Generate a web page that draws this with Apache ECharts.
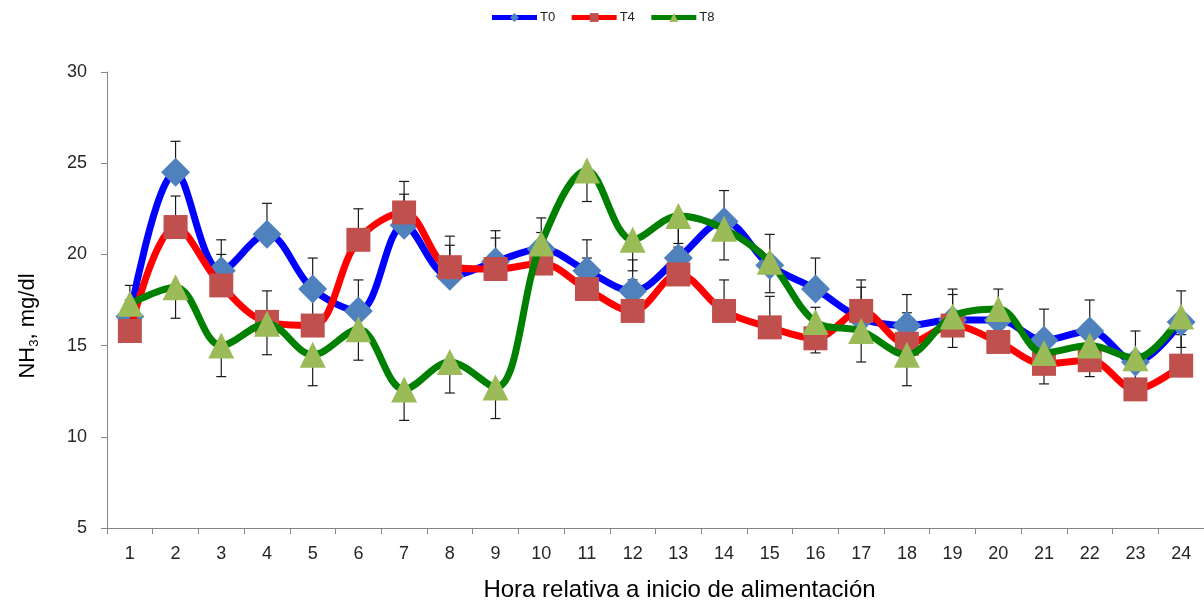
<!DOCTYPE html>
<html><head><meta charset="utf-8">
<script src="https://cdn.jsdelivr.net/npm/echarts@6/dist/echarts.min.js"></script>
<style>html,body{margin:0;padding:0;background:#fff}#c{width:1204px;height:607px}</style>
</head><body><div id="c"></div>
<script>
const hours = ['1','2','3','4','5','6','7','8','9','10','11','12','13','14','15','16','17','18','19','20','21','22','23','24'];
const t0 = [16.6, 24.5, 19.1, 21.1, 18.1, 16.9, 21.6, 18.8, 19.6, 20.3, 19.1, 18.0, 19.8, 21.8, 19.4, 18.1, 16.5, 16.1, 16.4, 16.4, 15.3, 15.8, 14.1, 16.3];
const t4 = [15.8, 21.5, 18.3, 16.3, 16.1, 20.8, 22.3, 19.3, 19.2, 19.5, 18.1, 16.9, 18.9, 16.9, 16.0, 15.4, 16.9, 15.1, 16.1, 15.2, 14.0, 14.2, 12.6, 13.9];
const t8 = [17.3, 18.2, 15.0, 16.2, 14.5, 15.9, 12.6, 14.1, 12.7, 20.6, 24.6, 20.8, 22.1, 21.4, 19.6, 16.3, 15.8, 14.5, 16.6, 17.0, 14.6, 15.0, 14.3, 16.6];
// error bars: T0 and T4 shown upward, T8 shown downward
const t0Err = [1.7, 1.7, 1.7, 1.7, 1.7, 1.7, 1.7, 1.7, 1.7, 1.7, 1.7, 1.7, 1.7, 1.7, 1.7, 1.7, 1.7, 1.7, 1.7, 1.7, 1.7, 1.7, 1.7, 1.7];
const t4Err = [1.7, 1.7, 1.7, 1.7, 1.7, 1.7, 1.7, 1.7, 1.7, 1.7, 1.7, 1.7, 1.7, 1.7, 1.7, 1.7, 1.7, 1.7, 1.7, 1.7, 1.7, 1.7, 1.7, 1.7];
const t8Err = [1.7, 1.7, 1.7, 1.7, 1.7, 1.7, 1.7, 1.7, 1.7, 1.7, 1.7, 1.7, 1.7, 1.7, 1.7, 1.7, 1.7, 1.7, 1.7, 1.7, 1.7, 1.7, 1.7, 1.7];
const yTicks = {min: 5, max: 30, interval: 5};

const chart = echarts.init(document.getElementById('c'), null, {renderer: 'canvas'});

function errData(vals, errs, dir) {
  return vals.map((v, i) => [i, v, v + dir * errs[i]]);
}
function errSeries(name, vals, errs, dir, z) {
  return {
    type: 'custom', name: name + ' err', z: z,
    silent: true,
    data: errData(vals, errs, dir),
    encode: {x: 0, y: [1, 2]},
    renderItem: function (params, api) {
      const p0 = api.coord([api.value(0), api.value(1)]);
      const p1 = api.coord([api.value(0), api.value(2)]);
      const hw = 5;
      const st = {stroke: '#1a1a1a', lineWidth: 1.2};
      return {type: 'group', children: [
        {type: 'line', shape: {x1: p0[0], y1: p0[1], x2: p1[0], y2: p1[1]}, style: st},
        {type: 'line', shape: {x1: p1[0] - hw, y1: p1[1], x2: p1[0] + hw, y2: p1[1]}, style: st}
      ]};
    }
  };
}
function lineSeries(name, vals, lineColor, markColor, symbol, size, z) {
  return {
    type: 'line', name: name, data: vals, z: z,
    smooth: 0.35,
    symbol: symbol, symbolSize: size,
    showAllSymbol: true,
    lineStyle: {color: lineColor, width: 7},
    itemStyle: {color: markColor, borderWidth: 0},
    color: lineColor,
    emphasis: {disabled: true}
  };
}

chart.setOption({
  animation: false,
  backgroundColor: '#fff',
  legend: {
    top: 6, left: 'center',
    itemWidth: 45, itemHeight: 11, itemGap: 14,
    lineStyle: {width: 5},
    textStyle: {fontFamily: 'Liberation Sans', fontSize: 13, color: '#222', padding: [0, 0, 0, -2]},
    data: ['T0', 'T4', 'T8']
  },
  grid: {left: 107, right: 0, top: 72, bottom: 76, containLabel: false},
  xAxis: {
    type: 'category', data: hours, boundaryGap: true,
    axisLine: {lineStyle: {color: '#868686', width: 1}},
    axisTick: {show: true, alignWithLabel: false, length: 6, lineStyle: {color: '#868686'}},
    axisLabel: {fontFamily: 'Liberation Sans', fontSize: 18, color: '#262626', margin: 17},
    name: 'Hora relativa a inicio de alimentación',
    nameLocation: 'middle', nameGap: 50,
    nameTextStyle: {fontFamily: 'Liberation Sans', fontSize: 24, color: '#000', padding: [0, 0, 0, 48]}
  },
  yAxis: {
    type: 'value', min: yTicks.min, max: yTicks.max, interval: yTicks.interval,
    splitLine: {show: false},
    axisLine: {show: true, lineStyle: {color: '#868686', width: 1}},
    axisTick: {show: true, length: 6, lineStyle: {color: '#868686'}},
    axisLabel: {fontFamily: 'Liberation Sans', fontSize: 18, color: '#262626', margin: 20},
    name: '{a|NH}{b|3}{a|, mg/dl}',
    nameLocation: 'middle', nameGap: 66, nameRotate: 90,
    nameTextStyle: {
      padding: [0, 52, 0, 0],
      rich: {
        a: {fontFamily: 'Liberation Sans', fontSize: 22, color: '#000', lineHeight: 26},
        b: {fontFamily: 'Liberation Sans', fontSize: 13, color: '#000', verticalAlign: 'bottom', lineHeight: 26}
      }
    }
  },
  series: [
    errSeries('T0', t0, t0Err, 1, 1),
    errSeries('T4', t4, t4Err, 1, 1),
    errSeries('T8', t8, t8Err, -1, 1),
    lineSeries('T0', t0, '#0000FF', '#4F81BD', 'diamond', 29, 2),
    lineSeries('T4', t4, '#FF0000', '#C0504D', 'rect', 24, 3),
    lineSeries('T8', t8, '#008000', '#9BBB59', 'triangle', 26, 4)
  ]
});
</script>
</body></html>
